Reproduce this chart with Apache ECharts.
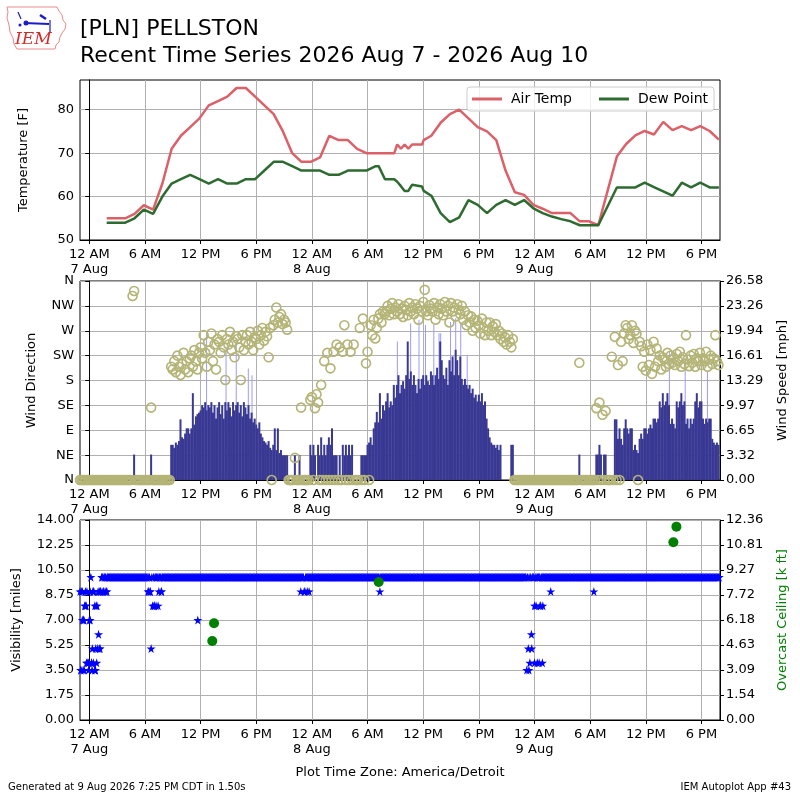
<!DOCTYPE html>
<html>
<head>
<meta charset="utf-8">
<script src="https://cdn.jsdelivr.net/npm/echarts@6/dist/echarts.min.js"></script>
<style>
  html, body { margin: 0; padding: 0; background: #fff; }
  #chart { width: 800px; height: 800px; }
</style>
</head>
<body>
<div id="chart"></div>
<script>
// x values are hours since 7 Aug 2026 00:00 (America/Detroit)
const timeTicks = [0, 6, 12, 18, 24, 30, 36, 42, 48, 54, 60, 66];
const hourNames = ['12 AM', '6 AM', '12 PM', '6 PM'];

// hourly obs (plus a few specials)
const tempHours = [1.88, 2.88, 3.88, 4.88, 5.88, 6.88, 7.88, 8.88, 9.88, 10.88, 11.88, 12.88, 13.88, 14.88,
  15.88, 16.88, 17.88, 18.88, 19.88, 20.88, 21.88, 22.88, 23.88, 24.88, 25.88, 26.88, 27.88, 28.88, 29.88,
  30.88, 31.2, 31.88, 32.88, 33.2, 33.6, 34.0, 34.4, 34.8, 35.88, 36.05,
  36.88, 37.88, 38.88, 39.88, 40.88, 41.88, 42.88, 43.88, 44.88, 45.88, 46.88, 47.88, 48.88, 49.88, 50.88,
  51.88, 52.88, 53.88, 54.88, 56.88, 57.88, 58.88, 59.88, 60.88, 61.88, 62.88, 63.88, 64.88, 65.88, 66.88, 67.88];
const airTemp = [55, 55, 55, 56, 58, 57, 63, 71, 74, 76, 78, 81, 82, 83,
  85, 85, 83, 81, 79, 75, 70, 68, 68, 69, 74, 73, 73, 71, 70,
  70, 70, 70, 70, 72, 71, 72, 71, 72, 72, 73,
  74, 77, 79, 80, 78, 76, 75, 73, 66, 61, 60.4, 58.1, 57.2, 56.2, 56.2,
  56.2, 54.3, 54.3, 53.4, 69.2, 72.1, 74.1, 75.1, 74.3, 77.2, 75.3, 76.2, 75.3, 76.2, 75.1, 73.1];
const dewPoint = [54, 54, 54, 55, 57, 56, 60, 63, 64, 65, 64, 63, 64, 63,
  63, 64, 64, 66, 68, 68, 67, 66, 66, 66, 65, 65, 66, 66, 66,
  67, 67, 64, 64, 63.4, 62.4, 61.3, 61.3, 62.7, 62.3, 61.3,
  60.2, 56.2, 54.1, 55.2, 59.2, 58.1, 56.2, 58.1, 59.2, 58.1, 59.2, 57.3, 56.2, 55.4, 54.8,
  54.3, 53.4, 53.4, 53.4, 62.1, 62.1, 62.1, 63.2, 62.2, 61.2, 60.2, 63.2, 62.1, 63.2, 62.1, 62.1];

// wind: 10 minute samples starting at -1 h, six per row (one row per hour)
const sampleStart = -1;
const windPerHour = 6;
const windSpeed = [
  0, 0, 0, 0, 0, 0,            // -1
  0, 0, 0, 0, 0, 0,            // 0
  0, 0, 0, 0, 0, 0,            // 1
  0, 0, 0, 0, 0, 0,            // 2
  0, 0, 0, 0, 0, 0,            // 3
  0, 0, 0, 0, 0, 3.4,          // 4
  0, 0, 0, 0, 0, 0,            // 5
  0, 0, 0, 0, 3.4, 0,          // 6
  0, 0, 0, 0, 0, 0,            // 7
  0, 0, 0, 0, 0, 4.7,          // 8
  4.7, 4.3, 5.0, 4.7, 5.2, 8.1,
  5.7, 5.5, 6.2, 6.9, 6.9, 6.2,
  6.9, 11.6, 7.4, 8.5, 8.8, 9.0,
  9.3, 10.0, 9.7, 10.4, 9.3, 10.0,   // 12
  9.7, 10.4, 9.0, 10.0, 8.2, 9.7,
  10.4, 8.8, 10.0, 8.2, 10.4, 9.3,
  10.4, 9.7, 8.5, 10.4, 9.3, 10.0,
  10.4, 9.0, 10.0, 8.5, 10.4, 9.7,
  8.8, 10.0, 8.2, 9.0, 7.7, 8.2,
  7.4, 6.9, 7.7, 6.2, 5.7, 5.2,      // 18
  5.0, 4.7, 5.2, 4.3, 4.0, 4.7,
  6.9, 4.0, 6.9, 3.6, 4.0, 3.3,
  3.3, 3.3, 3.3, 0, 0, 0,
  0, 3.3, 0, 0, 3.3, 0,
  0, 0, 0, 0, 0, 4.7,
  3.3, 4.7, 3.3, 0, 4.7, 3.3,        // 24
  5.7, 3.3, 4.7, 3.3, 4.7, 5.7,
  4.7, 6.9, 3.3, 3.3, 3.3, 0,
  3.3, 0, 4.7, 3.3, 4.7, 3.3,
  4.7, 3.3, 4.7, 0, 0, 0,
  0, 0, 3.3, 3.3, 3.3, 3.3,
  4.7, 5.0, 5.7, 4.7, 6.9, 7.7,      // 30
  9.1, 7.7, 11.6, 8.2, 10.0, 9.3,
  10.5, 11.6, 9.7, 10.5, 10.0, 12.7,
  11.0, 12.7, 14.0, 11.6, 12.7, 13.2,
  12.2, 14.0, 18.5, 13.5, 14.5, 12.7,
  14.0, 12.7, 11.6, 13.5, 12.2, 13.5,
  14.0, 12.7, 14.0, 13.2, 12.7, 14.5, // 36
  14.0, 12.7, 14.0, 15.0, 13.5, 18.5,
  16.0, 14.0, 13.5, 15.0, 12.7, 16.0,
  14.5, 16.5, 14.0, 17.4, 16.0, 14.0,
  16.5, 13.5, 12.7, 13.5, 12.7, 12.2,
  12.7, 11.6, 12.2, 11.0, 11.4, 10.5,
  11.4, 10.5, 11.6, 10.0, 10.5, 8.2,  // 42
  6.9, 5.7, 5.0, 4.7, 4.7, 4.3,
  4.7, 4.0, 4.7, 0, 0, 0,
  0, 0, 0, 4.7, 4.7, 0,
  0, 0, 0, 0, 0, 0,
  0, 0, 0, 0, 0, 0,
  0, 0, 0, 0, 0, 0,            // 48
  0, 0, 0, 0, 0, 0,
  0, 0, 0, 0, 0, 0,
  0, 0, 0, 0, 0, 0,
  0, 0, 0, 0, 0, 3.4,
  0, 0, 0, 0, 0, 0,
  0, 0, 0, 0, 3.4, 3.4,        // 54
  4.7, 3.4, 0, 3.4, 3.4, 0,
  0, 0, 0, 0, 8.1, 8.1,
  5.5, 6.9, 5.5, 4.7, 6.9, 8.1,
  6.9, 6.2, 6.9, 6.9, 4.0, 4.7,
  4.0, 3.6, 5.5, 6.2, 5.5, 6.9,
  6.9, 6.2, 6.9, 7.4, 6.9, 8.2,      // 60
  8.2, 7.7, 8.2, 10.5, 9.7, 11.6,
  10.0, 10.5, 11.6, 10.0, 7.5, 8.2,
  7.5, 6.9, 10.5, 9.7, 10.5, 11.6,
  10.0, 10.5, 7.5, 8.2, 6.9, 8.2,
  7.5, 8.2, 10.5, 11.6, 9.7, 10.5,
  10.5, 8.2, 7.5, 8.2, 7.7, 8.2,     // 66
  8.2, 5.5, 5.0, 4.7, 5.0, 4.7
];
// degrees, 0 = calm
const windDir = [
  0, 0, 0, 0, 0, 0,            // -1
  0, 0, 0, 0, 0, 0,
  0, 0, 0, 0, 0, 0,
  0, 0, 0, 0, 0, 0,
  0, 0, 0, 0, 0, 0,
  0, 0, 0, 0, 333, 342,        // 4
  0, 0, 0, 0, 0, 0,
  0, 0, 0, 0, 131, 0,
  0, 0, 0, 0, 0, 0,
  0, 0, 0, 0, 0, 205,          // 8
  200, 215, 195, 225, 205, 190,
  210, 230, 200, 215, 195, 220,
  225, 205, 235, 215, 200, 230,
  240, 220, 262, 230, 205, 250, // 12
  235, 265, 215, 245, 200, 255,
  250, 230, 262, 240, 181, 255,
  245, 268, 235, 250, 222, 260,
  255, 240, 181, 262, 235, 250,
  262, 245, 268, 250, 235, 258,
  255, 270, 245, 262, 275, 252, // 18
  268, 260, 222, 275, 0, 280,
  290, 312, 285, 295, 300, 282,
  290, 285, 272, 0, 0, 0,
  0, 40, 0, 0, 0, 131,
  0, 0, 0, 0, 0, 145,
  150, 0, 130, 155, 140, 0,     // 24
  172, 0, 215, 0, 230, 0,
  202, 0, 232, 0, 245, 0,
  240, 0, 232, 280, 0, 245,
  0, 232, 0, 245, 0, 0,
  0, 275, 0, 292, 0, 211,
  232, 0, 280, 262, 290, 256,   // 30
  275, 292, 300, 285, 305, 300,
  305, 315, 298, 310, 320, 300,
  312, 305, 318, 300, 310, 295,
  315, 308, 298, 320, 305, 312,
  300, 318, 310, 290, 315, 305,
  322, 344, 305, 298, 316, 310, // 36
  305, 320, 290, 312, 300, 318,
  310, 298, 322, 305, 315, 285,
  320, 305, 312, 296, 318, 308,
  300, 315, 290, 305, 280, 298,
  285, 296, 270, 290, 275, 288,
  280, 265, 292, 275, 262, 285, // 42
  270, 285, 262, 278, 268, 282,
  262, 270, 255, 265, 250, 258,
  245, 262, 250, 240, 255, 0,
  0, 0, 0, 0, 0, 0,
  0, 0, 0, 0, 0, 0,
  0, 0, 0, 0, 0, 0,            // 48
  0, 0, 0, 0, 0, 0,
  0, 0, 0, 0, 0, 0,
  0, 0, 0, 0, 0, 0,
  0, 0, 0, 0, 0, 212,
  0, 0, 0, 0, 0, 0,
  0, 0, 0, 0, 130, 0,          // 54
  140, 0, 118, 0, 125, 0,
  0, 0, 223, 0, 259, 0,
  208, 0, 250, 215, 265, 280,
  275, 255, 262, 280, 248, 270,
  265, 0, 250, 242, 205, 232,
  198, 245, 208, 235, 192, 250, // 60
  205, 238, 215, 225, 200, 222,
  218, 205, 230, 210, 225, 212,
  220, 208, 228, 215, 232, 205,
  222, 210, 262, 218, 206, 225,
  212, 228, 205, 220, 215, 230,
  208, 220, 215, 232, 205, 218, // 66
  225, 210, 220, 262, 215, 208
];
const gustHours = [12.7, 14.8, 15.9, 17.2, 17.6, 33.27, 34.7, 35.6, 36.3, 37.2, 37.76, 37.94, 39.0, 39.56, 40.1, 40.8, 62.6, 64.3, 66.7];
const gustSpeed = [19.6, 17.8, 18.9, 14.9, 14.0, 18.5, 20.9, 21.4, 20.7, 20.7, 19.6, 19.6, 21.1, 21.6, 21.1, 16.7, 17.1, 16.3, 14.5];

// visibility [miles]: 5 minute samples starting at -1 h, twelve per row
const visPerHour = 12;
const visMiles = [
  9, 3.5, 9, 7, 3.5, 7, 8, 9, 8, 9, 4, 3.5,                 // -1
  7, 9, 10, 4, 5, 9, 9, 3.5, 3.5, 8, 8, 5,                  // 0
  6, 9, 5, 9, 10, 10, 9, 10, 10, 10, 9, 10,                 // 1
  10, 10, 10, 10, 10, 10, 10, 10, 10, 10, 10, 10,           // 2
  10, 10, 10, 10, 10, 10, 10, 10, 10, 10, 10, 10,
  10, 10, 10, 10, 10, 10, 10, 10, 10, 10, 10, 10,           // 4
  10, 10, 10, 10, 10, 10, 10, 10, 10, 10, 10, 10,
  10, 10, 10, 10, 9, 10, 10, 9, 5, 10, 8, 10,               // 6
  8, 10, 10, 10, 10, 8, 10, 10, 10, 9, 10, 10,              // 7
  10, 10, 10, 10, 10, 10, 10, 10, 10, 10, 10, 10,           // 8
  10, 10, 10, 10, 10, 10, 10, 10, 10, 10, 10, 10,
  10, 10, 10, 10, 10, 10, 10, 10, 10, 10, 10, 10,
  10, 10, 10, 10, 10, 10, 10, 10, 10, 10, 10, 10,
  10, 10, 10, 10, 10, 10, 10, 10, 10, 10, 10, 10,           // 12
  10, 10, 10, 10, 10, 10, 10, 10, 10, 10, 10, 10,
  10, 10, 10, 10, 10, 10, 10, 10, 10, 10, 10, 10,
  10, 10, 10, 10, 10, 10, 10, 10, 10, 10, 10, 10,
  10, 10, 10, 10, 10, 10, 10, 10, 10, 10, 10, 10,
  10, 10, 10, 10, 10, 10, 10, 10, 10, 10, 10, 10,
  10, 10, 10, 10, 10, 10, 10, 10, 10, 10, 10, 10,           // 18
  10, 10, 10, 10, 10, 10, 10, 10, 10, 10, 10, 10,
  10, 10, 10, 10, 10, 10, 10, 10, 10, 10, 10, 10,
  10, 10, 10, 10, 10, 10, 10, 10, 10, 10, 10, 10,
  10, 10, 10, 10, 10, 10, 10, 10, 10, 10, 10, 10,
  10, 10, 9, 9, 10, 10, 10, 10, 10, 10, 10, 10,             // 23
  10, 10, 10, 10, 10, 10, 10, 10, 10, 10, 10, 10,           // 24
  10, 10, 10, 10, 10, 10, 10, 10, 10, 10, 10, 10,
  10, 10, 10, 10, 10, 10, 10, 10, 10, 10, 10, 10,
  10, 10, 10, 10, 10, 10, 10, 10, 10, 10, 10, 10,
  10, 10, 10, 10, 10, 10, 10, 10, 10, 10, 10, 10,
  10, 10, 10, 10, 10, 10, 10, 10, 10, 10, 10, 10,
  10, 10, 10, 10, 10, 10, 10, 10, 10, 10, 10, 10,           // 30
  10, 10, 10, 10, 9, 10, 10, 10, 10, 10, 10, 10,            // 31
  10, 10, 10, 10, 10, 10, 10, 10, 10, 10, 10, 10,
  10, 10, 10, 10, 10, 10, 10, 10, 10, 10, 10, 10,
  10, 10, 10, 10, 10, 10, 10, 10, 10, 10, 10, 10,
  10, 10, 10, 10, 10, 10, 10, 10, 10, 10, 10, 10,
  10, 10, 10, 10, 10, 10, 10, 10, 10, 10, 10, 10,           // 36
  10, 10, 10, 10, 10, 10, 10, 10, 10, 10, 10, 10,
  10, 10, 10, 10, 10, 10, 10, 10, 10, 10, 10, 10,
  10, 10, 10, 10, 10, 10, 10, 10, 10, 10, 10, 10,
  10, 10, 10, 10, 10, 10, 10, 10, 10, 10, 10, 10,
  10, 10, 10, 10, 10, 10, 10, 10, 10, 10, 10, 10,
  10, 10, 10, 10, 10, 10, 10, 10, 10, 10, 10, 10,           // 42
  10, 10, 10, 10, 10, 10, 10, 10, 10, 10, 10, 10,
  10, 10, 10, 10, 10, 10, 10, 10, 10, 10, 10, 10,
  10, 10, 10, 10, 10, 10, 10, 10, 10, 10, 10, 10,
  10, 10, 10, 10, 10, 10, 10, 10, 10, 10, 10, 10,
  10, 10, 3.5, 10, 5, 10, 4, 10, 6, 10, 10, 10,             // 47
  4, 10, 8, 10, 10, 10, 10, 10, 8, 10, 10, 10,              // 48
  10, 10, 10, 10, 10, 10, 10, 10, 10, 10, 10, 10,
  10, 10, 10, 10, 10, 10, 10, 10, 10, 10, 10, 10,
  10, 10, 10, 10, 10, 10, 10, 10, 10, 10, 10, 10,
  10, 10, 10, 10, 10, 10, 10, 10, 10, 10, 10, 10,
  10, 10, 10, 10, 10, 10, 10, 10, 10, 10, 10, 10,
  10, 10, 10, 10, 10, 10, 10, 10, 10, 10, 10, 10,           // 54
  10, 10, 10, 10, 10, 10, 10, 10, 10, 10, 10, 10,
  10, 10, 10, 10, 10, 10, 10, 10, 10, 10, 10, 10,
  10, 10, 10, 10, 10, 10, 10, 10, 10, 10, 10, 10,
  10, 10, 10, 10, 10, 10, 10, 10, 10, 10, 10, 10,
  10, 10, 10, 10, 10, 10, 10, 10, 10, 10, 10, 10,
  10, 10, 10, 10, 10, 10, 10, 10, 10, 10, 10, 10,           // 60
  10, 10, 10, 10, 10, 10, 10, 10, 10, 10, 10, 10,
  10, 10, 10, 10, 10, 10, 10, 10, 10, 10, 10, 10,
  10, 10, 10, 10, 10, 10, 10, 10, 10, 10, 10, 10,
  10, 10, 10, 10, 10, 10, 10, 10, 10, 10, 10, 10,
  10, 10, 10, 10, 10, 10, 10, 10, 10, 10, 10, 10,
  10, 10, 10, 10, 10, 10, 10, 10, 10, 10, 10, 10,           // 66
  10, 10, 10, 10, 10, 10, 10, 10, 10, 10, 10, 10
];
// extra obs that share a time slot with the main ones
const visExtraHours = [-0.9, -0.75, -0.6, -0.55, -0.4, -0.3, -0.1, 0.05, 0.1, 0.25, 0.3, 0.4, 0.45, 0.6, 0.62, 0.7, 0.8, 0.95, 1.1, 1.2, 1.5, 1.7, 1.9,
  6.4, 6.55, 7.0, 7.2, 7.5, 7.8, 11.7, 22.8, 23.5, 23.7,
  47.4, 47.7, 48.0, 48.3, 48.5, 48.6, 48.85, 48.9, 49.75, 54.4];
const visExtraMiles = [3.5, 9, 7, 3.5, 8, 4, 4, 9, 7, 4, 3.5, 9, 4, 8, 3.5, 5, 4, 9, 5, 9, 9, 9, 9,
  9, 9, 8, 8, 9, 9, 7, 9, 9, 9,
  3.5, 5, 8, 4, 4, 8, 4, 8, 9, 9];

// overcast ceiling [k ft]
const ceilHours = [13.26, 13.45, 31.2, 62.97, 63.3];
const ceilKft = [4.88, 5.98, 8.53, 10.98, 11.95];

const dirLabels = ['N', 'NE', 'E', 'SE', 'S', 'SW', 'W', 'NW', 'N'];
const speedTicks = ['0.00', '3.32', '6.65', '9.97', '13.29', '16.61', '19.94', '23.26', '26.58'];
const ceilTicks = ['0.00', '1.54', '3.09', '4.63', '6.18', '7.72', '9.27', '10.81', '12.36'];
const speedMax = 26.58;
const ceilMax = 12.36;

const FONT = 'DejaVu Sans';
const GRIDC = '#b0b0b0';

const sampleHour = (i, perHour) => sampleStart + i / perHour;

function timeLabel(v) {
  const hr = ((v % 24) + 24) % 24;
  if (hr === 0) return '12 AM\n' + (7 + v / 24) + ' Aug';
  return hourNames[hr / 6];
}

function xAxisFor(gridIndex) {
  return {
    type: 'value', gridIndex: gridIndex, min: -1, max: 68,
    axisLine: { show: true, onZero: false, lineStyle: { color: '#000', width: 1 } },
    axisTick: { show: true, customValues: timeTicks, length: 4, lineStyle: { color: '#000' } },
    axisLabel: { customValues: timeTicks, formatter: timeLabel, color: '#000', fontSize: 13, lineHeight: 15, fontFamily: FONT, margin: 7 },
    splitLine: { show: true, lineStyle: { color: GRIDC, width: 1 } }
  };
}

function yAxisBase(extra) {
  return Object.assign({
    type: 'value',
    axisLine: { show: true, lineStyle: { color: '#000', width: 1 } },
    axisTick: { show: true, length: 4, lineStyle: { color: '#000' } },
    axisLabel: { color: '#000', fontSize: 13, fontFamily: FONT, margin: 6 },
    nameLocation: 'middle', nameRotate: 90,
    nameTextStyle: { color: '#000', fontSize: 13, fontFamily: FONT }
  }, extra);
}

const chart = echarts.init(document.getElementById('chart'), null, { renderer: 'canvas' });

const option = {
  animation: false,
  backgroundColor: '#fff',
  textStyle: { fontFamily: FONT },
  grid: [
    { left: 80, top: 80, width: 640, height: 160, show: true, borderColor: '#000', borderWidth: 1, outerBoundsMode: 'none' },
    { left: 80, top: 281, width: 640, height: 199, show: true, borderColor: '#000', borderWidth: 1, outerBoundsMode: 'none' },
    { left: 80, top: 520, width: 640, height: 200, show: true, borderColor: '#000', borderWidth: 1, outerBoundsMode: 'none' }
  ],
  legend: {
    data: ['Air Temp', 'Dew Point'],
    right: 86, top: 87,
    icon: 'rect', itemWidth: 30, itemHeight: 3, itemGap: 27,
    padding: [5, 6, 5, 5],
    borderColor: '#cccccc', borderWidth: 1, borderRadius: 3,
    backgroundColor: 'rgba(255,255,255,0.8)',
    textStyle: { color: '#000', fontSize: 14, fontFamily: FONT, padding: [0, 0, 0, 4] }
  },
  xAxis: [xAxisFor(0), xAxisFor(1), xAxisFor(2)],
  yAxis: [
    yAxisBase({
      gridIndex: 0, min: 50, max: 86.84, name: 'Temperature [F]', nameGap: 50,
      axisTick: { show: true, length: 4, customValues: [50, 60, 70, 80], lineStyle: { color: '#000' } },
      axisLabel: { customValues: [50, 60, 70, 80], color: '#000', fontSize: 13, fontFamily: FONT, margin: 6 },
      splitLine: { show: true, lineStyle: { color: GRIDC, width: 1 } }
    }),
    yAxisBase({
      gridIndex: 1, min: 0, max: 360, interval: 45, name: 'Wind Direction', nameGap: 42,
      axisLabel: { color: '#000', fontSize: 13, fontFamily: FONT, margin: 6, formatter: (v) => dirLabels[Math.round(v / 45)] },
      splitLine: { show: true, lineStyle: { color: GRIDC, width: 1 } }
    }),
    yAxisBase({
      gridIndex: 1, position: 'right', min: 0, max: speedMax, interval: speedMax / 8, name: 'Wind Speed [mph]', nameGap: 56,
      axisLabel: { color: '#000', fontSize: 13, fontFamily: FONT, margin: 6, formatter: (v) => speedTicks[Math.round(v / (speedMax / 8))] },
      splitLine: { show: false }
    }),
    yAxisBase({
      gridIndex: 2, min: 0, max: 14, interval: 1.75, name: 'Visibility [miles]', nameGap: 57,
      axisLabel: { color: '#000', fontSize: 13, fontFamily: FONT, margin: 6, formatter: (v) => v.toFixed(2) },
      splitLine: { show: true, lineStyle: { color: GRIDC, width: 1 } }
    }),
    yAxisBase({
      gridIndex: 2, position: 'right', min: 0, max: ceilMax, interval: ceilMax / 8, name: 'Overcast Ceiling [k ft]', nameGap: 56,
      nameTextStyle: { color: '#008000', fontSize: 13, fontFamily: FONT },
      axisLabel: { color: '#000', fontSize: 13, fontFamily: FONT, margin: 6, formatter: (v) => ceilTicks[Math.round(v / (ceilMax / 8))] },
      splitLine: { show: false }
    })
  ],
  series: [
    {
      name: 'Air Temp', type: 'line', xAxisIndex: 0, yAxisIndex: 0,
      data: tempHours.map((h, i) => [h, airTemp[i]]),
      showSymbol: false, lineStyle: { color: '#dc6068', width: 2.5 }, itemStyle: { color: '#dc6068' }
    },
    {
      name: 'Dew Point', type: 'line', xAxisIndex: 0, yAxisIndex: 0,
      data: tempHours.map((h, i) => [h, dewPoint[i]]),
      showSymbol: false, lineStyle: { color: '#2e6b30', width: 2.5 }, itemStyle: { color: '#2e6b30' }
    },
    {
      name: 'Gust', type: 'bar', xAxisIndex: 1, yAxisIndex: 2,
      data: gustHours.map((h, i) => [h, gustSpeed[i]]),
      barWidth: 1, barGap: '-100%', itemStyle: { color: '#9b9bfa' }
    },
    {
      name: 'Wind Speed', type: 'bar', xAxisIndex: 1, yAxisIndex: 2,
      data: windSpeed.map((v, i) => [sampleHour(i, windPerHour), v]).filter((d) => d[1] > 0),
      barWidth: 2, barGap: '-100%', itemStyle: { color: '#393994' }
    },
    {
      name: 'Wind Direction', type: 'scatter', xAxisIndex: 1, yAxisIndex: 1,
      data: windDir.map((v, i) => [sampleHour(i, windPerHour), v]),
      symbol: 'circle', symbolSize: 9,
      itemStyle: { color: 'rgba(0,0,0,0)', borderColor: '#b4b477', borderWidth: 1.6, opacity: 1 }
    },
    {
      name: 'Visibility', type: 'scatter', xAxisIndex: 2, yAxisIndex: 3,
      data: visMiles.map((v, i) => [sampleHour(i, visPerHour), v]).concat(visExtraHours.map((h, i) => [h, visExtraMiles[i]])),
      symbol: 'path://M50,0 L61,35 L98,35 L68,57 L79,91 L50,70 L21,91 L32,57 L2,35 L39,35 Z',
      symbolSize: 9, itemStyle: { color: '#0000ff', opacity: 1 }
    },
    {
      name: 'Ceiling', type: 'scatter', xAxisIndex: 2, yAxisIndex: 4,
      data: ceilHours.map((h, i) => [h, ceilKft[i]]),
      symbol: 'circle', symbolSize: 10, itemStyle: { color: '#008000', opacity: 1 }
    }
  ],
  graphic: [
    // IEM logo
    {
      type: 'polyline', silent: true,
      shape: { points: [[7, 7], [57, 7], [59, 11], [62, 15], [63, 20], [66, 24], [65, 29], [62, 33], [60, 37], [59, 42], [56, 45], [55, 49], [17, 49], [14, 44], [13, 38], [10, 32], [9, 25], [7, 18], [8, 12], [7, 7]] },
      style: { stroke: '#ec8a8a', lineWidth: 1, fill: null }
    },
    { type: 'line', shape: { x1: 24, y1: 23, x2: 49, y2: 24 }, style: { stroke: '#1c1cc8', lineWidth: 2 } },
    { type: 'circle', shape: { cx: 26, cy: 23, r: 2.5 }, style: { fill: '#1c1cc8' } },
    { type: 'line', shape: { x1: 18, y1: 12, x2: 21, y2: 19 }, style: { stroke: '#1c1cc8', lineWidth: 1.2 } },
    { type: 'line', shape: { x1: 40, y1: 15, x2: 46, y2: 19 }, style: { stroke: '#1c1cc8', lineWidth: 2.5 } },
    { type: 'line', shape: { x1: 50, y1: 20, x2: 50, y2: 32 }, style: { stroke: '#1c1cc8', lineWidth: 1.2 } },
    { type: 'circle', shape: { cx: 20, cy: 25, r: 1.5 }, style: { fill: '#1c1cc8' } },
    {
      type: 'text', left: 15, top: 31,
      style: { text: 'IEM', fill: '#d42a2a', font: 'italic 17px "DejaVu Serif"' }
    },
    // titles
    {
      type: 'text', left: 80, top: 18,
      style: { text: '[PLN] PELLSTON', fill: '#000', font: '22px "DejaVu Sans"' }
    },
    {
      type: 'text', left: 80, top: 45,
      style: { text: 'Recent Time Series 2026 Aug 7 - 2026 Aug 10', fill: '#000', font: '22px "DejaVu Sans"' }
    },
    {
      type: 'text', left: 'center', top: 766,
      style: { text: 'Plot Time Zone: America/Detroit', fill: '#000', font: '13px "DejaVu Sans"' }
    },
    {
      type: 'text', left: 8, top: 782,
      style: { text: 'Generated at 9 Aug 2026 7:25 PM CDT in 1.50s', fill: '#000', font: '10px "DejaVu Sans"' }
    },
    {
      type: 'text', right: 9, top: 782,
      style: { text: 'IEM Autoplot App #43', fill: '#000', font: '10px "DejaVu Sans"' }
    }
  ]
};

chart.setOption(option);
</script>
</body>
</html>
